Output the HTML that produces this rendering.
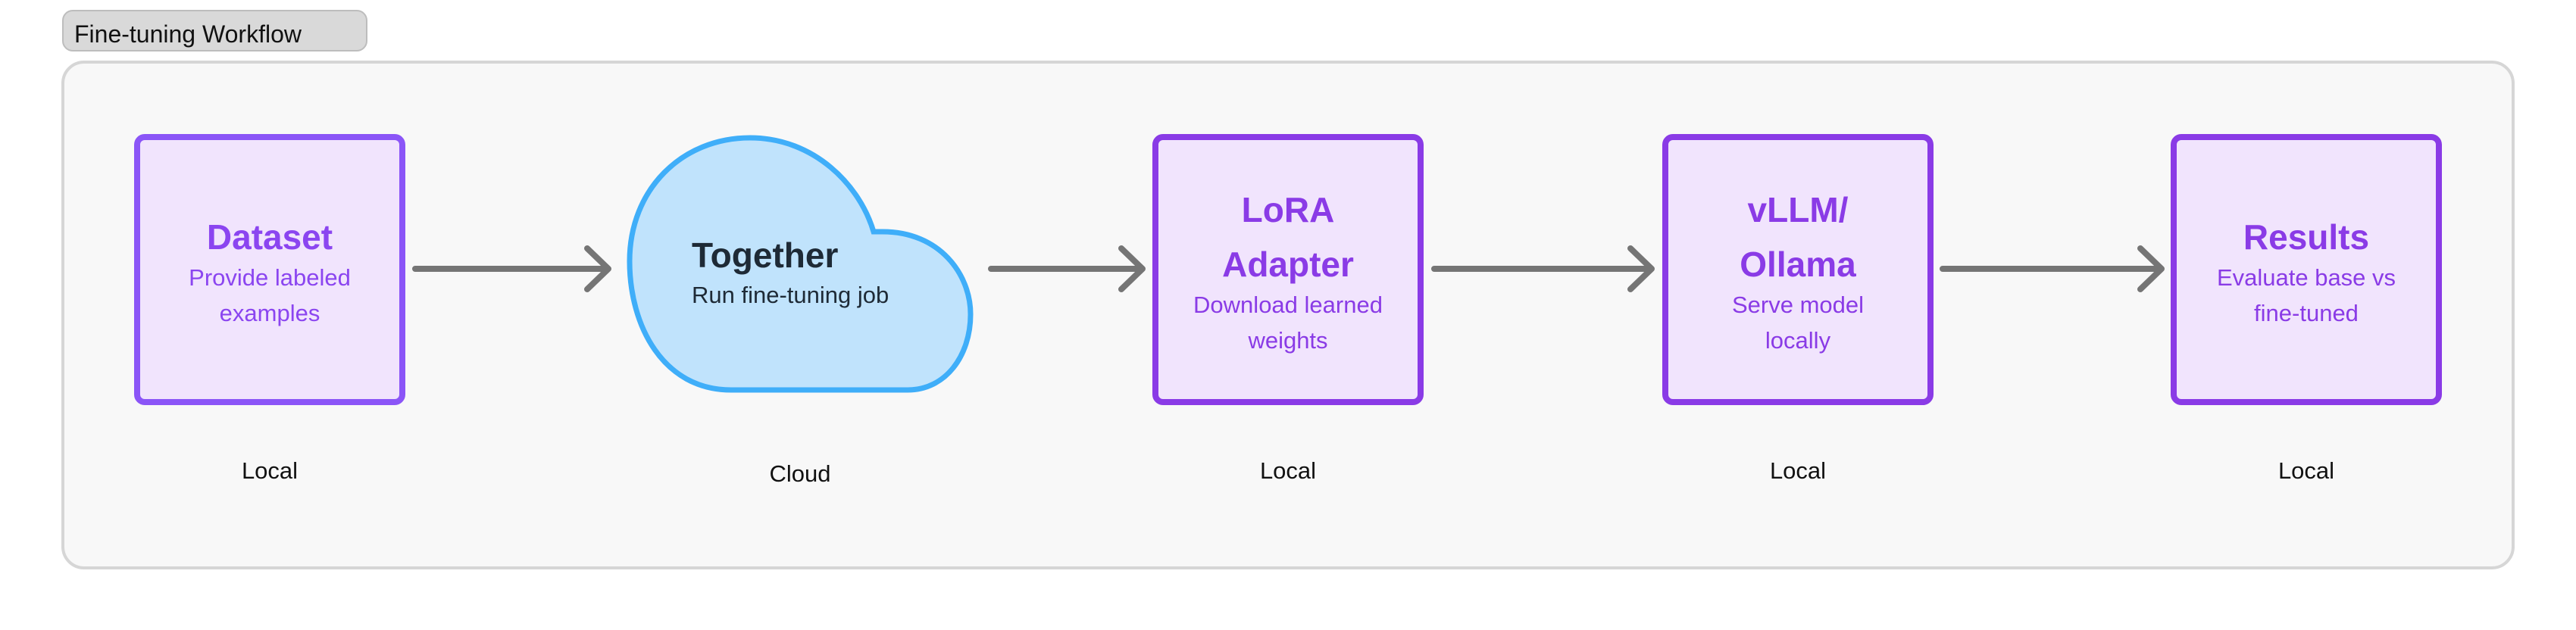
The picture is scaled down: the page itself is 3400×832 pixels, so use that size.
<!DOCTYPE html>
<html><head><meta charset="utf-8"><style>
html,body{margin:0;padding:0;background:#fff;}
svg{display:block;font-family:"Liberation Sans",sans-serif;}
</style></head><body>
<svg width="3400" height="832" viewBox="0 0 3400 832" xmlns="http://www.w3.org/2000/svg">
<rect x="83" y="14" width="401" height="53" rx="13" fill="#d9d9d9" stroke="#bdbdbd" stroke-width="2"/>
<text x="98" y="56" font-size="32" fill="#111">Fine-tuning Workflow</text>
<rect x="83" y="82" width="3234" height="668" rx="28" fill="#f8f8f8" stroke="#d6d6d6" stroke-width="4"/>

<g fill="#f1e4fd" stroke-width="8">
<rect x="181" y="181" width="350" height="350" rx="10" stroke="#8b55f7"/>
<rect x="1525" y="181" width="350" height="350" rx="10" stroke="#8a3be6"/>
<rect x="2198" y="181" width="350" height="350" rx="10" stroke="#8a3be6"/>
<rect x="2869" y="181" width="350" height="350" rx="10" stroke="#8a3be6"/>
</g>

<path d="M965 515 C875 515 831 430 831 345 C831 250 900 182 990 182 C1075 182 1135 245 1153 306 L1165 306 C1240 306 1281 362 1281 415 C1281 470 1248 515 1198 515 Z" fill="#c0e3fc" stroke="#3faef9" stroke-width="7"/>

<g stroke="#757575" stroke-width="8" stroke-linecap="round" stroke-linejoin="round" fill="none">
<path d="M548 355 H803 M775 328 L803 355 L775 382"/>
<path d="M1308 355 H1508 M1480 328 L1508 355 L1480 382"/>
<path d="M1893 355 H2180 M2152 328 L2180 355 L2152 382"/>
<path d="M2564 355 H2853 M2825 328 L2853 355 L2825 382"/>
</g>

<g text-anchor="middle" fill="#8a3be6">
<text x="356" y="329" font-size="46" font-weight="bold" fill="#8b45f0">Dataset</text>
<text x="356" y="377" font-size="31" fill="#8b45f0">Provide labeled</text>
<text x="356" y="424" font-size="31" fill="#8b45f0">examples</text>

<text x="1700" y="293" font-size="46" font-weight="bold">LoRA</text>
<text x="1700" y="365" font-size="46" font-weight="bold">Adapter</text>
<text x="1700" y="413" font-size="31">Download learned</text>
<text x="1700" y="460" font-size="31">weights</text>

<text x="2373" y="293" font-size="46" font-weight="bold">vLLM/</text>
<text x="2373" y="365" font-size="46" font-weight="bold">Ollama</text>
<text x="2373" y="413" font-size="31">Serve model</text>
<text x="2373" y="460" font-size="31">locally</text>

<text x="3044" y="329" font-size="46" font-weight="bold">Results</text>
<text x="3044" y="377" font-size="31">Evaluate base vs</text>
<text x="3044" y="424" font-size="31">fine-tuned</text>
</g>

<text x="913" y="353" font-size="46" font-weight="bold" fill="#1e2a36">Together</text>
<text x="913" y="400" font-size="31" fill="#1e2a36">Run fine-tuning job</text>

<g text-anchor="middle" font-size="31" fill="#111">
<text x="356" y="632">Local</text>
<text x="1056" y="636">Cloud</text>
<text x="1700" y="632">Local</text>
<text x="2373" y="632">Local</text>
<text x="3044" y="632">Local</text>
</g>
</svg>
</body></html>
